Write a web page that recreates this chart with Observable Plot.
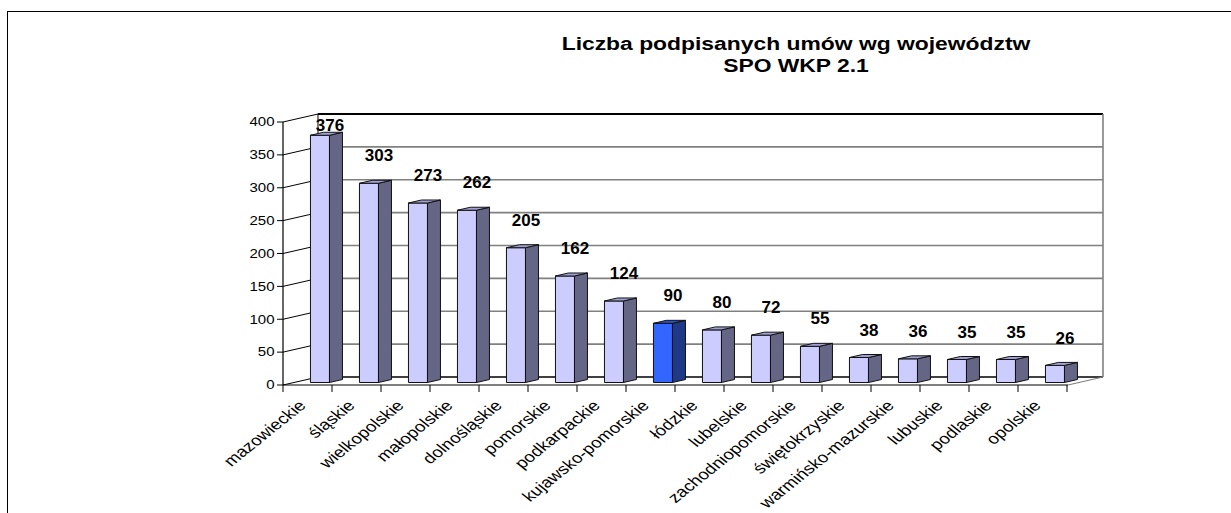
<!DOCTYPE html>
<html>
<head>
<meta charset="utf-8">
<script src="https://cdn.jsdelivr.net/npm/d3@7"></script>
<script src="https://cdn.jsdelivr.net/npm/@observablehq/plot@0.6"></script>
<style>
  html, body { margin: 0; padding: 0; background: #fff; overflow: hidden; }
  body { font-family: "Liberation Sans", Arial, sans-serif; }
  #wrap { position: relative; width: 1231px; height: 513px; overflow: hidden; }
  #frame { position: absolute; left: 7px; top: 11px; width: 1400px; height: 700px; border: 1.5px solid #000; box-sizing: border-box; }
  #title { position: absolute; left: 496px; width: 600px; top: 33px; text-align: center; font-weight: bold; font-size: 18px; line-height: 22px; color: #000; transform: scaleX(1.27); transform-origin: 300px 0; white-space: nowrap; }
  #chart { position: absolute; left: 0; top: 0; }
</style>
</head>
<body>
<div id="wrap">
  <div id="frame"></div>
  <div id="chart"></div>
  <div id="title">Liczba podpisanych umów wg województw<br>SPO WKP 2.1</div>
</div>
<script>
const categories = ["mazowieckie", "śląskie", "wielkopolskie", "małopolskie", "dolnośląskie", "pomorskie", "podkarpackie", "kujawsko-pomorskie", "łódzkie", "lubelskie", "zachodniopomorskie", "świętokrzyskie", "warmińsko-mazurskie", "lubuskie", "podlaskie", "opolskie"];
const values = [376, 303, 273, 262, 205, 162, 124, 90, 80, 72, 55, 38, 36, 35, 35, 26];
const highlighted = "kujawsko-pomorskie";
const yTicks = [0, 50, 100, 150, 200, 250, 300, 350, 400];

const data = categories.map((c, i) => ({category: c, value: values[i]}));

const lavender = {front: "#ccccff", side: "#656585", top: "#a0a0d2"};
const blue = {front: "#3366ff", side: "#1f3888", top: "#2a52cc"};

function scene(index, scales, vals, dims) {
  const x = scales.x, y = scales.y;
  const n = categories.length;
  const X0 = dims.marginLeft, X1 = dims.width - dims.marginRight;
  const bwRaw = (x && x.bandwidth) ? x.bandwidth() : 0;
  const bw = bwRaw > 0 ? bwRaw : (X1 - X0) / n;
  const xs = c => (bwRaw > 0 ? x(c) : X0 + categories.indexOf(c) * bw);
  const y0 = y(0), yTop = y(d3.max(yTicks));
  const DX = 0.714 * bw, DY = -8;
  const g = d3.create("svg:g");
  const line = (x1, y1, x2, y2, stroke, w) =>
    g.append("line").attr("x1", x1).attr("y1", y1).attr("x2", x2).attr("y2", y2)
      .attr("stroke", stroke).attr("stroke-width", w);
  const poly = (pts, fill) =>
    g.append("polygon").attr("points", pts.map(p => p.join(",")).join(" "))
      .attr("fill", fill).attr("stroke", "#111").attr("stroke-width", 1).attr("stroke-linejoin", "round");

  // back wall gridlines
  for (const t of yTicks) {
    if (t === 0) continue;
    const top = t === d3.max(yTicks);
    line(X0 + DX, y(t) + DY, X1 + DX, y(t) + DY, top ? "#000" : "#808080", top ? 2 : 1.6);
  }
  // floor back edge
  line(X0 + DX, y0 + DY, X1 + DX, y0 + DY, "#000", 1.3);
  // left wall back vertical edge
  line(X0 + DX, y0 + DY, X0 + DX, yTop + DY, "#000", 1);
  // back wall right edge
  line(X1 + DX, y0 + DY, X1 + DX, yTop + DY, "#808080", 1.6);
  // floor right edge
  line(X1, y0, X1 + DX, y0 + DY, "#808080", 1.2);
  // left wall slanted lines
  for (const t of yTicks) line(X0, y(t), X0 + DX, y(t) + DY, "#000", 1);
  // y tick marks
  for (const t of yTicks) line(X0 - 6, y(t), X0, y(t), "#000", 1);

  // 3D bars
  categories.forEach((c, i) => {
    const v = values[i];
    const xl = xs(c) + 0.54 * bw, xr = xs(c) + 0.928 * bw;
    const bDX = 0.265 * bw, bDY = -3, off = -2.5;
    const yb = y0 + off, yt = y(v) + off;
    const col = c === highlighted ? blue : lavender;
    poly([[xl, yb], [xr, yb], [xr, yt], [xl, yt]], col.front);
    poly([[xr, yb], [xr + bDX, yb + bDY], [xr + bDX, yt + bDY], [xr, yt]], col.side);
    poly([[xl, yt], [xr, yt], [xr + bDX, yt + bDY], [xl + bDX, yt + bDY]], col.top);
  });

  // front axes
  line(X0, y0, X1, y0, "#000", 1.2);
  line(X0, y0, X0, yTop, "#000", 1.2);
  for (let k = 0; k <= n; k++) line(X0 + k * bw, y0, X0 + k * bw, y0 + 7, "#000", 1);
  return g.node();
}

const yMax = d3.max(yTicks);

const chart = Plot.plot({
  width: 1231,
  height: 513,
  marginLeft: 283,
  marginRight: 163,
  marginTop: 122,
  marginBottom: 128,
  x: {type: "band", domain: categories, padding: 0, axis: null},
  y: {domain: [0, yMax], axis: null},
  style: {background: "transparent", fontFamily: "'Liberation Sans', Arial, sans-serif", color: "#000", overflow: "visible"},
  marks: [
    scene,
    Plot.text(yTicks, {frameAnchor: "left", y: d => d, text: d => String(d), dx: -9, textAnchor: "end", fontSize: 12, fill: "#000"}),
    // value labels sit above each bar, kept inside the plot area like the original
    Plot.text(data, {x: "category", y: d => Math.min(d.value + 40, yMax - 10), text: d => String(d.value), dx: 21, dy: -4, fontWeight: "bold", fontSize: 17, fill: "#000"}),
    Plot.text(categories, {x: d => d, frameAnchor: "bottom", text: d => d, rotate: -45, textAnchor: "end", dx: -2, dy: 21, fontSize: 15, fill: "#000"})
  ]
});

// horizontal stretch of the original chart's text (y tick labels, category labels)
const groups = Array.from(chart.children).filter(el => el.tagName.toLowerCase() === "g");
function stretch(group, s) {
  if (!group) return;
  group.querySelectorAll("text").forEach(t => {
    let tr = t.getAttribute("transform");
    if (!tr) {
      const tx = t.getAttribute("x") || 0, ty = t.getAttribute("y") || 0;
      t.removeAttribute("x"); t.removeAttribute("y");
      tr = `translate(${tx},${ty})`;
    }
    if (tr.includes("rotate(")) tr = tr.replace("rotate(", `scale(${s},1) rotate(`);
    else tr = tr + ` scale(${s},1)`;
    t.setAttribute("transform", tr);
  });
}
stretch(groups[1], 1.25);
stretch(groups[3], 1.25);

document.getElementById("chart").appendChild(chart);
</script>
</body>
</html>
